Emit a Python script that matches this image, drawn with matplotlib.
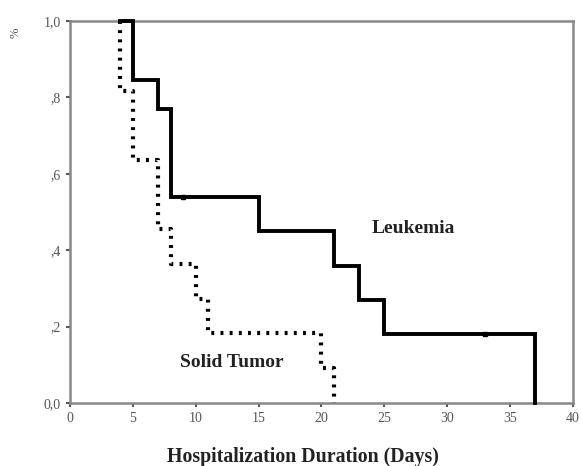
import matplotlib
matplotlib.use('Agg')
import matplotlib.pyplot as plt

# Kaplan-Meier step data
leuk_t = [4, 5, 7, 8, 15, 21, 23, 25, 37]
leuk_s = [1.0, 0.846, 0.769, 0.538, 0.449, 0.359, 0.269, 0.180, 0.0]
leuk_cens_t = [9, 33]
leuk_cens_s = [0.538, 0.180]

solid_t = [4, 5, 7, 8, 10, 11, 20, 21]
solid_s = [0.818, 0.636, 0.455, 0.364, 0.273, 0.182, 0.091, 0.0]

xticks = [0, 5, 10, 15, 20, 25, 30, 35, 40]
yticks = [0.0, 0.2, 0.4, 0.6, 0.8, 1.0]
ytick_labels = ['0,0', ',2', ',4', ',6', ',8', '1,0']

plt.rcParams['font.family'] = ['Liberation Serif', 'DejaVu Serif']

fig = plt.figure(figsize=(5.81, 4.66), dpi=100)
ax = fig.add_axes([0.1205, 0.1352, 0.8657, 0.8197])

# leukemia: solid step
ax.step([leuk_t[0]] + leuk_t, [1.0] + leuk_s, where='post', color='black', lw=2.8,
        solid_joinstyle='miter', zorder=3, clip_on=False)
ax.plot(leuk_cens_t, leuk_cens_s, ls='none', marker='s', ms=3.5, color='black', zorder=3)

# solid tumor: dotted step
ax.step([solid_t[0]] + solid_t, [1.0] + solid_s, where='post', color='black', lw=3.0,
        linestyle=(0, (0.7, 1.5)), dash_capstyle='butt', zorder=3, clip_on=False)

ax.text(27.3, 0.458, 'Leukemia', fontsize=14, fontweight='bold', ha='center',
        va='center', color='#222222')
ax.text(12.9, 0.107, 'Solid Tumor', fontsize=14, fontweight='bold', ha='center',
        va='center', color='#222222')

ax.set_xlim(0, 40)
ax.set_ylim(0, 1.0)
ax.set_xticks(xticks)
ax.set_yticks(yticks)
ax.set_yticklabels(ytick_labels)
ax.tick_params(length=3, width=1.5, color='#555555', labelsize=10, labelcolor='#555555')
for s in ax.spines.values():
    s.set_color('#888888')
    s.set_linewidth(1.8)

ax.set_xlabel('Hospitalization Duration (Days)', fontsize=14.3, fontweight='bold',
              color='#222222')
ax.xaxis.set_label_coords(0.463, -0.116)
fig.text(0.027, 0.93, '%', rotation=90, fontsize=9, color='#555555', ha='center', va='center')

fig.savefig('out.png', dpi=100)
